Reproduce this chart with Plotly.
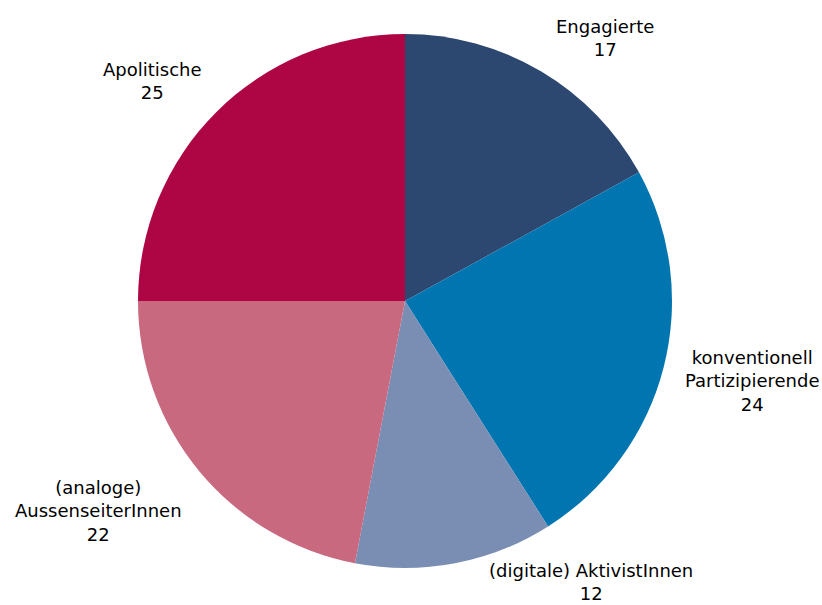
import plotly.graph_objects as go

labels = ["Engagierte", "konventionell<br>Partizipierende", "(digitale) AktivistInnen",
          "(analoge)<br>AussenseiterInnen", "Apolitische"]
values = [17, 24, 12, 22, 25]
colors = ["#2C4770", "#0075B0", "#7A8DB3", "#C8697F", "#AE0645"]

# label block centres in pixels (layout only)
label_pos = [(605, 38), (752, 381), (591, 582), (98, 511), (152, 81)]

W, H = 822, 605

fig = go.Figure(go.Pie(
    labels=labels,
    values=values,
    sort=False,
    direction="clockwise",
    rotation=0,
    marker=dict(colors=colors, line=dict(width=0)),
    textinfo="none",
    domain=dict(x=[138/W, 672/W], y=[1-568/H, 1-34/H]),
    showlegend=False,
    hoverinfo="label+value",
))

for lab, val, (px, py) in zip(labels, values, label_pos):
    fig.add_annotation(
        x=px / W, y=1 - py / H, xref="paper", yref="paper",
        text=f"{lab}<br>{val}", showarrow=False,
        xanchor="center", yanchor="middle", align="center",
        borderpad=0,
        font=dict(family="DejaVu Sans, sans-serif", size=18, color="#000000"),
    )

fig.update_layout(
    width=W, height=H,
    margin=dict(l=0, r=0, t=0, b=0),
    paper_bgcolor="white",
    plot_bgcolor="white",
)

fig.write_html(
    "out.html",
    config={"displayModeBar": False},
    post_script="document.body.style.margin='0';document.body.style.overflow='hidden';",
)
